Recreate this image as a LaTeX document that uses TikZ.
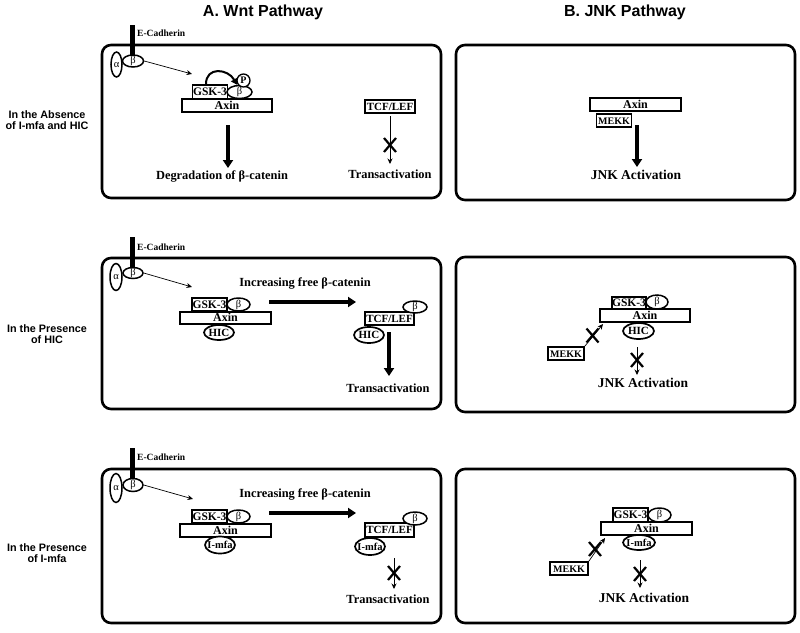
\documentclass[tikz,border=0pt]{standalone}
\usepackage{fontspec}
\setmainfont{Liberation Serif}
\newfontfamily\lsans{Liberation Sans}
\usetikzlibrary{arrows.meta,shapes.geometric}
\tikzset{
 panel/.style={draw, line width=2.6pt, rounded corners=9pt},
 prot/.style={draw, line width=1.8pt, fill=white, inner sep=0pt, text height=7.5pt, text depth=0.5pt, font=\fontsize{11}{11}\selectfont\bfseries},
 axinfont/.style={font=\fontsize{12}{12}\selectfont\bfseries},
 mekkfont/.style={font=\fontsize{10}{10}\selectfont\bfseries},
 gskfont/.style={font=\fontsize{11.5}{11.5}\selectfont\bfseries},
 oval/.style={ellipse, draw, line width=1.5pt, fill=white, inner sep=0pt, text height=6pt, text depth=1pt, font=\fontsize{10.5}{10.5}\selectfont},
 ovalb/.style={ellipse, draw, line width=1.7pt, fill=white, inner xsep=-3pt, inner ysep=0pt, text height=7pt, text depth=0pt, font=\fontsize{11}{11}\selectfont\bfseries},
 imfafont/.style={font=\fontsize{10.5}{10.5}\selectfont\bfseries},
 pcirc/.style={circle, draw, line width=1.3pt, fill=white, inner sep=0pt, minimum size=13pt, font=\fontsize{10}{10}\selectfont\bfseries},
 bigarrow/.style={line width=3.6pt, -{Triangle[length=8pt,width=10pt]}},
 thinarrow/.style={line width=0.7pt, -{Stealth[length=5.5pt,width=5pt]}},
 curvarrow/.style={line width=2pt, -{Triangle[length=6pt,width=7pt]}},
 lbl/.style={font=\fontsize{12.4}{14}\selectfont\bfseries, inner sep=0pt},
 jnk/.style={font=\fontsize{13.5}{15}\selectfont\bfseries, inner sep=0pt},
 eclbl/.style={anchor=west, font=\fontsize{9.5}{10}\selectfont\bfseries, inner sep=0pt},
 rowlbl/.style={align=center, inner sep=0pt, font=\lsans\bfseries\fontsize{10.8}{11.5}\selectfont},
 titlelbl/.style={inner sep=0pt, font=\lsans\bfseries\fontsize{16}{18}\selectfont},
 xmark/.style={line width=2.2pt},
 ecbar/.style={fill=black, inner sep=0pt, minimum width=5pt},
}
\newcommand{\xcross}[1]{\draw[xmark] ([shift={(-6pt,-7pt)}]#1) -- ([shift={(6pt,7pt)}]#1) ([shift={(-6pt,7pt)}]#1) -- ([shift={(6pt,-7pt)}]#1);}
\begin{document}
\begin{tikzpicture}[x=1pt,y=-1pt]
\useasboundingbox (0,0) rectangle (800,632);
\fill[white] (0,0) rectangle (800,632);

% titles
\node[titlelbl] (tA) at (263,12) {A. Wnt Pathway};
\node[titlelbl] (tB) at (625,12) {B. JNK Pathway};

% row labels
\node[rowlbl] (r1) at (47,120) {In the Absence\\of I-mfa and HIC};
\node[rowlbl] (r2) at (47,334) {In the Presence\\of HIC};
\node[rowlbl] (r3) at (47,553) {In the Presence\\of I-mfa};

% panels
\draw[panel] (102,45) rectangle (441,198);
\draw[panel] (456,45) rectangle (795,200);
\draw[panel] (102,258) rectangle (441,409);
\draw[panel] (456,257) rectangle (795,412);
\draw[panel] (102,469) rectangle (441,623);
\draw[panel] (456,469) rectangle (795,623);

% ================= Row 1, Wnt
\node[ecbar, minimum height=38pt] (ec1) at (132.5,44) {};
\node[eclbl] (ecl1) at (137,33) {E-Cadherin};
\node[oval, minimum width=11pt, minimum height=25pt] (al1) at (116.5,64.5) {α};
\node[oval, minimum width=21pt, minimum height=12pt] (be1) at (133,61) {β};
\coordinate (c1t) at (192,74);
\draw[thinarrow] (be1.east) -- (c1t);
\node[prot, axinfont, minimum width=90pt, minimum height=13pt] (ax1) at (227,105.5) {Axin};
\node[prot, gskfont, minimum width=35pt, minimum height=14pt] (gsk1) at (210,92) {GSK-3};
\node[oval, minimum width=25pt, minimum height=13pt] (bg1) at (239.5,92) {β};
\node[pcirc] (p1) at (243.5,80.5) {P};
\draw[curvarrow] ([xshift=-4pt]gsk1.north) .. controls +(0,-18) and +(-9,-16) .. ([xshift=-2.5pt]bg1.north);
\coordinate (d1s) at (228,125);
\coordinate (d1e) at (228,168);
\draw[bigarrow] (d1s) -- (d1e);
\node[lbl] (deg1) at (222,176) {Degradation of β-catenin};
\node[prot, minimum width=50pt, minimum height=13pt] (tcf1) at (390,106.5) {TCF/LEF};
\node[lbl] (tr1) at (390,174) {Transactivation};
\coordinate (t1s) at (390,116);
\coordinate (t1e) at (390,164);
\draw[thinarrow] (t1s) -- (t1e);
\coordinate (x1) at (390,145);
\xcross{x1}

% ================= Row 1, JNK
\node[prot, axinfont, minimum width=91pt, minimum height=13pt] (ax2) at (635.5,104.5) {Axin};
\node[prot, mekkfont, minimum width=35pt, minimum height=13pt] (mk2) at (614,120.5) {MEKK};
\coordinate (j2s) at (637,125);
\coordinate (j2e) at (637,167);
\draw[bigarrow] (j2s) -- (j2e);
\node[jnk] (jn2) at (636,175) {JNK Activation};

% ================= Row 2, Wnt
\node[ecbar, minimum height=38pt] (ec3) at (132.5,256) {};
\node[eclbl] (ecl3) at (137,247) {E-Cadherin};
\node[oval, minimum width=12pt, minimum height=27pt] (al3) at (116,277) {α};
\node[oval, minimum width=20pt, minimum height=11pt] (be3) at (133,273) {β};
\coordinate (c3t) at (192,287);
\draw[thinarrow] (be3.east) -- (c3t);
\node[lbl] (inc3) at (305,283.5) {Increasing free β-catenin};
\node[prot, axinfont, minimum width=91pt, minimum height=12pt] (ax3) at (225.5,318) {Axin};
\node[prot, gskfont, minimum width=35pt, minimum height=13pt] (gsk3) at (209.5,304.5) {GSK-3};
\node[oval, minimum width=23pt, minimum height=13pt] (bg3) at (238.5,304.5) {β};
\node[ovalb, minimum width=30pt, minimum height=15pt] (hic3) at (219,332.5) {HIC};
\coordinate (f3s) at (269,302);
\coordinate (f3e) at (356,302);
\draw[bigarrow] (f3s) -- (f3e);
\node[prot, minimum width=49pt, minimum height=13pt] (tcf3) at (389.5,318.5) {TCF/LEF};
\node[oval, minimum width=24pt, minimum height=12pt] (bt3) at (415,307) {β};
\node[ovalb, minimum width=30pt, minimum height=16pt] (hict3) at (369,335) {HIC};
\coordinate (t3s) at (389,332);
\coordinate (t3e) at (389,376);
\draw[bigarrow] (t3s) -- (t3e);
\node[lbl] (tr3) at (388,388) {Transactivation};

% ================= Row 2, JNK
\node[prot, axinfont, minimum width=90pt, minimum height=13pt] (ax4) at (645,315.5) {Axin};
\node[prot, gskfont, minimum width=34pt, minimum height=12pt] (gsk4) at (629,303) {GSK-3};
\node[oval, minimum width=22pt, minimum height=14pt] (bg4) at (657,302) {β};
\node[ovalb, minimum width=31pt, minimum height=16pt] (hic4) at (638.5,331) {HIC};
\node[prot, mekkfont, minimum width=36pt, minimum height=13pt] (mk4) at (566,353.5) {MEKK};
\coordinate (m4t) at (603,324);
\draw[thinarrow] (mk4.north east) -- (m4t);
\coordinate (x4a) at (592.5,335.5);
\xcross{x4a}
\coordinate (j4s) at (637,347);
\coordinate (j4e) at (637,375);
\draw[thinarrow] (j4s) -- (j4e);
\coordinate (x4b) at (637,360);
\xcross{x4b}
\node[jnk] (jn4) at (643,383) {JNK Activation};

% ================= Row 3, Wnt
\node[ecbar, minimum height=33pt] (ec5) at (132.5,464.5) {};
\node[eclbl] (ecl5) at (137,457) {E-Cadherin};
\node[oval, minimum width=12pt, minimum height=29pt] (al5) at (116,488) {α};
\node[oval, minimum width=20pt, minimum height=13pt] (be5) at (133,485) {β};
\coordinate (c5t) at (193,499);
\draw[thinarrow] (be5.east) -- (c5t);
\node[lbl] (inc5) at (305,494.5) {Increasing free β-catenin};
\node[prot, axinfont, minimum width=91pt, minimum height=13pt] (ax5) at (225.5,530.5) {Axin};
\node[prot, gskfont, minimum width=35pt, minimum height=13pt] (gsk5) at (209.5,516.5) {GSK-3};
\node[oval, minimum width=23pt, minimum height=13pt] (bg5) at (238.5,516.5) {β};
\node[ovalb, imfafont, minimum width=30pt, minimum height=17pt] (imf5) at (220,545) {I-mfa};
\coordinate (f5s) at (269,513);
\coordinate (f5e) at (356,513);
\draw[bigarrow] (f5s) -- (f5e);
\node[prot, minimum width=49pt, minimum height=14pt] (tcf5) at (389.5,530) {TCF/LEF};
\node[oval, minimum width=24pt, minimum height=13pt] (bt5) at (415,518.5) {β};
\node[ovalb, imfafont, minimum width=30pt, minimum height=17pt] (imft5) at (370,546.5) {I-mfa};
\coordinate (t5s) at (394,558);
\coordinate (t5e) at (394,589);
\draw[thinarrow] (t5s) -- (t5e);
\coordinate (x5) at (394,573);
\xcross{x5}
\node[lbl] (tr5) at (388,599) {Transactivation};

% ================= Row 3, JNK
\node[prot, axinfont, minimum width=91pt, minimum height=13pt] (ax6) at (646.5,528.5) {Axin};
\node[prot, gskfont, minimum width=35pt, minimum height=14pt] (gsk6) at (630.5,515) {GSK-3};
\node[oval, minimum width=23pt, minimum height=14pt] (bg6) at (659.5,515) {β};
\node[ovalb, imfafont, minimum width=32pt, minimum height=15pt] (imf6) at (639,542.5) {I-mfa};
\node[prot, mekkfont, minimum width=38pt, minimum height=13pt] (mk6) at (569,568.5) {MEKK};
\coordinate (m6t) at (605,538);
\draw[thinarrow] (mk6.north east) -- (m6t);
\coordinate (x6a) at (595,549);
\xcross{x6a}
\coordinate (j6s) at (640,560);
\coordinate (j6e) at (640,588);
\draw[thinarrow] (j6s) -- (j6e);
\coordinate (x6b) at (640,574);
\xcross{x6b}
\node[jnk] (jn6) at (644,598) {JNK Activation};
\end{tikzpicture}
\end{document}
